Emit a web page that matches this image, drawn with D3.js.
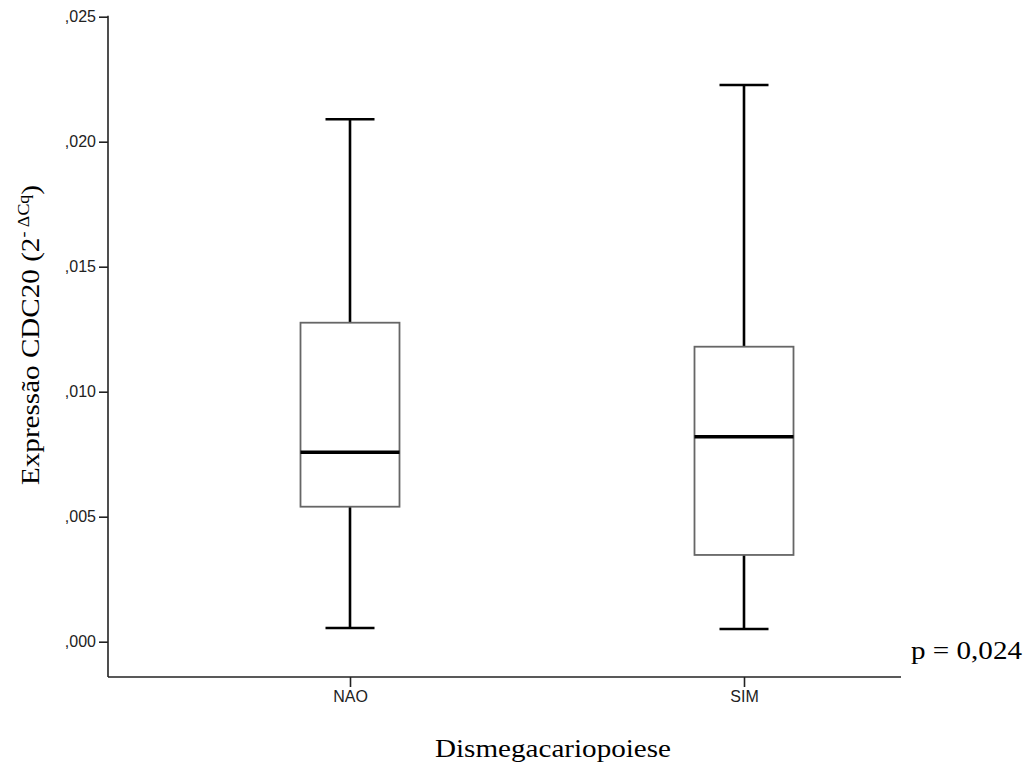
<!DOCTYPE html>
<html>
<head>
<meta charset="utf-8">
<script src="https://cdn.jsdelivr.net/npm/d3@7"></script>
<style>
  body { margin: 0; background: #fff; }
  svg { display: block; }
</style>
</head>
<body>
<svg width="1029" height="764"></svg>
<script>
const categories = ["NAO", "SIM"];
const whiskerLow = [0.00055, 0.00051];
const q1 = [0.00540, 0.00347];
const median = [0.00758, 0.00820];
const q3 = [0.01276, 0.01180];
const whiskerHigh = [0.02090, 0.02227];
const yTicks = [0, 0.005, 0.010, 0.015, 0.020, 0.025];
const yTickLabels = [",000", ",005", ",010", ",015", ",020", ",025"];

const data = categories.map((c, i) => ({
  cat: c,
  lo: whiskerLow[i],
  q1: q1[i],
  med: median[i],
  q3: q3[i],
  hi: whiskerHigh[i],
}));

const svg = d3.select("svg");

const y = d3.scaleLinear().domain([0, 0.025]).range([641.7, 16.7]);
const x = d3.scalePoint().domain(categories).range([350, 744]);

const axisLeftX = 108;
const axisBottomY = 677;
const boxW = 99;
const capW = 49;

// y axis
const yAxis = svg.append("g")
  .attr("transform", `translate(${axisLeftX},0)`)
  .call(d3.axisLeft(y).tickValues(yTicks)
    .tickFormat((d, i) => yTickLabels[i]).tickSize(9).tickPadding(3).tickSizeOuter(0));
yAxis.select(".domain").remove();
yAxis.selectAll("line").attr("stroke", "#222").attr("stroke-width", 1.6);
yAxis.selectAll("text")
  .attr("font-family", "Liberation Sans, Arial, sans-serif")
  .attr("font-size", 16).attr("fill", "#222");

// x axis
const xAxis = svg.append("g")
  .attr("transform", `translate(0,${axisBottomY})`)
  .call(d3.axisBottom(x).tickSize(10).tickPadding(4).tickSizeOuter(0));
xAxis.select(".domain").remove();
xAxis.selectAll("line").attr("stroke", "#222").attr("stroke-width", 1.6);
xAxis.selectAll("text")
  .attr("font-family", "Liberation Sans, Arial, sans-serif")
  .attr("font-size", 16).attr("fill", "#222");

// axis frame lines
svg.append("line")
  .attr("x1", axisLeftX).attr("x2", axisLeftX)
  .attr("y1", y(0.025) - 1).attr("y2", axisBottomY)
  .attr("stroke", "#222").attr("stroke-width", 1.6);
svg.append("line")
  .attr("x1", axisLeftX).attr("x2", 901)
  .attr("y1", axisBottomY).attr("y2", axisBottomY)
  .attr("stroke", "#222").attr("stroke-width", 1.6);

// boxes
const g = svg.append("g").selectAll("g").data(data).join("g");

g.append("line")
  .attr("x1", d => x(d.cat)).attr("x2", d => x(d.cat))
  .attr("y1", d => y(d.hi)).attr("y2", d => y(d.q3))
  .attr("stroke", "#000").attr("stroke-width", 2.6);
g.append("line")
  .attr("x1", d => x(d.cat)).attr("x2", d => x(d.cat))
  .attr("y1", d => y(d.q1)).attr("y2", d => y(d.lo))
  .attr("stroke", "#000").attr("stroke-width", 2.6);
g.append("line")
  .attr("x1", d => x(d.cat) - capW / 2).attr("x2", d => x(d.cat) + capW / 2)
  .attr("y1", d => y(d.hi)).attr("y2", d => y(d.hi))
  .attr("stroke", "#000").attr("stroke-width", 2.6);
g.append("line")
  .attr("x1", d => x(d.cat) - capW / 2).attr("x2", d => x(d.cat) + capW / 2)
  .attr("y1", d => y(d.lo)).attr("y2", d => y(d.lo))
  .attr("stroke", "#000").attr("stroke-width", 2.6);
g.append("rect")
  .attr("x", d => x(d.cat) - boxW / 2)
  .attr("y", d => y(d.q3))
  .attr("width", boxW)
  .attr("height", d => y(d.q1) - y(d.q3))
  .attr("fill", "#fff").attr("stroke", "#666").attr("stroke-width", 1.8);
g.append("line")
  .attr("x1", d => x(d.cat) - boxW / 2).attr("x2", d => x(d.cat) + boxW / 2)
  .attr("y1", d => y(d.med)).attr("y2", d => y(d.med))
  .attr("stroke", "#000").attr("stroke-width", 3.6);

// titles (serif text in the reference is a bit wider than Liberation Serif)
const serif = "Liberation Serif, Times New Roman, serif";
const stretch = 1.12;
const yl = svg.append("text")
  .attr("transform", `translate(39,335) rotate(-90) scale(${stretch},1)`)
  .attr("text-anchor", "middle")
  .attr("font-family", serif).attr("font-size", 26).attr("fill", "#000");
yl.append("tspan").text("Expressão CDC20 (2");
yl.append("tspan").attr("font-size", 16).attr("dy", -10).text("- ΔCq");
yl.append("tspan").attr("dy", 10).text(")");

svg.append("text")
  .attr("transform", `translate(553,757) scale(${stretch},1)`)
  .attr("text-anchor", "middle")
  .attr("font-family", serif).attr("font-size", 26).attr("fill", "#000")
  .text("Dismegacariopoiese");

svg.append("text")
  .attr("transform", `translate(911,659) scale(${stretch},1)`)
  .attr("font-family", serif).attr("font-size", 26).attr("fill", "#000")
  .text("p = 0,024");
</script>
</body>
</html>
